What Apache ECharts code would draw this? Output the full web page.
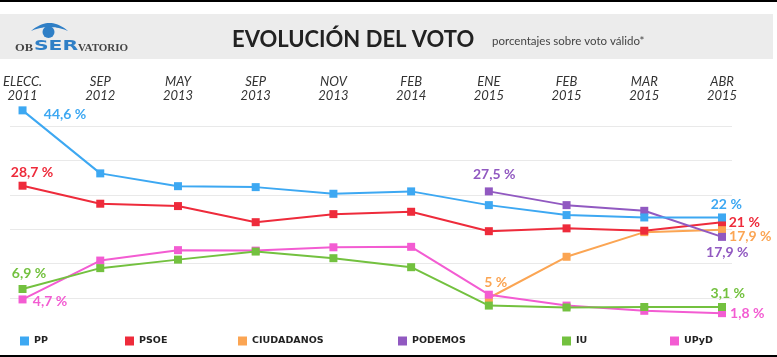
<!DOCTYPE html>
<html><head><meta charset="utf-8">
<script src="https://cdn.jsdelivr.net/npm/echarts@6/dist/echarts.min.js"></script>
<style>html,body{margin:0;padding:0;background:#fff}#c{width:777px;height:357px}</style>
</head><body><div id="c"></div>
<script>
// ---- data ----
const categories = ['ELECC.\n2011','SEP\n2012','MAY\n2013','SEP\n2013','NOV\n2013','FEB\n2014','ENE\n2015','FEB\n2015','MAR\n2015','ABR\n2015'];
const ppValues        = [44.6, 31.3, 28.6, 28.4, 27.0, 27.5, 24.6, 22.5, 22.0, 22.0];
const psoeValues      = [28.7, 24.9, 24.4, 21.0, 22.7, 23.2, 19.1, 19.7, 19.2, 21.0];
const ciudadanosValues= [null, null, null, null, null, null, 5.0, 13.7, 18.9, 19.4];
const podemosValues   = [null, null, null, null, null, null, 27.5, 24.6, 23.4, 17.9];
const iuValues        = [6.9, 11.3, 13.1, 14.8, 13.4, 11.5, 3.4, 3.0, 3.1, 3.1];
const upydValues      = [4.7, 12.9, 15.1, 15.0, 15.7, 15.8, 5.7, 3.4, 2.3, 1.8];
// annotation texts (first / last points)
const ppLabels        = ['44,6 %', null, null, null, null, null, null, null, null, '22 %'];
const psoeLabels      = ['28,7 %', null, null, null, null, null, null, null, null, '21 %'];
const ciudadanosLabels= [null, null, null, null, null, null, '5 %', null, null, '17,9 %'];
const podemosLabels   = [null, null, null, null, null, null, '27,5 %', null, null, '17,9 %'];
const iuLabels        = ['6,9 %', null, null, null, null, null, null, null, null, '3,1 %'];
const upydLabels      = ['4,7 %', null, null, null, null, null, null, null, null, '1,8 %'];

// ---- styling ----
const FONT = 'Lato, "Open Sans", sans-serif';
const labelOffsets = {
  PP:        {0:[42.5,4.3], 9:[4.3,-12.7]},
  PSOE:      {0:[9.5,-13.7], 9:[22.3,0]},
  CIUDADANOS:{6:[6.8,-15.2], 9:[28.3,6.7]},
  PODEMOS:   {6:[5.3,-16.7], 9:[5.3,16]},
  IU:        {0:[6.5,-16], 9:[5.8,-13.7]},
  UPyD:      {0:[27.5,2.4], 9:[25.3,0]}
};
function buildData(name, values, labels, color){
  return values.map((v,i)=>{
    if (labels[i] && labelOffsets[name][i]) {
      return {value:v, label:{show:true, position:'inside', offset:labelOffsets[name][i],
        formatter:labels[i], color:color, fontFamily:FONT, fontWeight:'bold', fontSize:14}};
    }
    return v;
  });
}
const seriesDefs = [
  {name:'CIUDADANOS', values:ciudadanosValues, labels:ciudadanosLabels, color:'#FBA553', z:2},
  {name:'UPyD',       values:upydValues,       labels:upydLabels,       color:'#F35CD2', z:3},
  {name:'IU',         values:iuValues,         labels:iuLabels,         color:'#73C13F', z:4},
  {name:'PSOE',       values:psoeValues,       labels:psoeLabels,       color:'#EE2B3B', z:5},
  {name:'PODEMOS',    values:podemosValues,    labels:podemosLabels,    color:'#9159C1', z:6},
  {name:'PP',         values:ppValues,         labels:ppLabels,         color:'#3DA8F2', z:7}
];
const legendPos = [['PP',15],['PSOE',120],['CIUDADANOS',233],['PODEMOS',393],['IU',557],['UPyD',665]];

// logo eyelid shape (decoration)
function crescent(){
  const pts=[], q=(a,b,c,t)=>(1-t)*(1-t)*a+2*(1-t)*t*b+t*t*c;
  for(let i=0;i<=20;i++){const t=i/20; pts.push([q(31,49.5,68,t), q(31,15,31,t)]);}
  for(let i=20;i>=0;i--){const t=i/20; pts.push([q(31,49.5,68,t), q(31,23,31,t)]);}
  return pts;
}

const chart = echarts.init(document.getElementById('c'), null, {renderer:'canvas'});
chart.setOption({
  animation:false,
  backgroundColor:'#fff',
  grid:[
    {left:19, right:55, top:126, bottom:59},
    {left:10, right:45, top:126, bottom:59}
  ],
  xAxis:[
    {type:'category', data:categories, boundaryGap:false, position:'top', gridIndex:0,
     axisLine:{show:false}, axisTick:{show:false}, splitLine:{show:false},
     axisLabel:{color:'#333', fontFamily:FONT, fontStyle:'italic', fontSize:13, lineHeight:14, margin:23, interval:0}},
    {type:'value', gridIndex:1, show:false, min:0, max:1}
  ],
  yAxis:[
    {type:'value', gridIndex:0, min:5, max:41.3, show:false, splitLine:{show:false}},
    {type:'value', gridIndex:1, min:0, max:5, interval:1,
     axisLine:{show:false}, axisTick:{show:false}, axisLabel:{show:false},
     splitLine:{show:true, lineStyle:{color:'#e9e9e9', width:1}}}
  ],
  legend: legendPos.map(([n,x])=>({
    data:[{name:n, icon:'rect'}], left:x, top:331, itemWidth:9, itemHeight:9, itemGap:0,
    textStyle:{color:'#222', fontFamily:'"DejaVu Sans", sans-serif', fontWeight:'bold', fontSize:9.5}
  })),
  series: seriesDefs.map(s=>({
    name:s.name, type:'line', xAxisIndex:0, yAxisIndex:0, z:s.z, clip:false,
    data:buildData(s.name, s.values, s.labels, s.color),
    symbol:'rect', symbolSize:8, showAllSymbol:true,
    itemStyle:{color:s.color}, lineStyle:{color:s.color, width:2},
    emphasis:{disabled:true}, connectNulls:false
  })),
  graphic:[
    {type:'rect', shape:{x:0,y:0,width:777,height:2}, style:{fill:'#000'}},
    {type:'rect', shape:{x:0,y:355,width:777,height:2}, style:{fill:'#000'}},
    {type:'rect', shape:{x:0,y:14,width:773,height:45}, style:{fill:'#ececec'}},
    {type:'polygon', shape:{points:crescent()}, style:{fill:'#2f7fc6'}},
    {type:'circle', shape:{cx:48.5,cy:32,r:6}, style:{fill:'#2f7fc6'}},
    {type:'text', x:15, y:43, scaleX:1.25, style:{text:'OB', fill:'#444', font:'bold 10px "Liberation Serif", serif'}},
    {type:'text', x:34, y:39, scaleX:1.45, style:{text:'SER', fill:'#2f7fc6', font:'bold 14px "DejaVu Sans", sans-serif'}},
    {type:'text', x:78, y:43, scaleX:1.1, style:{text:'VATORIO', fill:'#444', font:'bold 10px "Liberation Serif", serif'}},
    {type:'text', x:232, y:29, style:{text:'EVOLUCIÓN DEL VOTO', fill:'#222', font:'bold 22px Lato, sans-serif'}},
    {type:'text', x:492, y:35, style:{text:'porcentajes sobre voto válido*', fill:'#444', font:'11.5px Lato, sans-serif'}}
  ]
});
</script></body></html>
